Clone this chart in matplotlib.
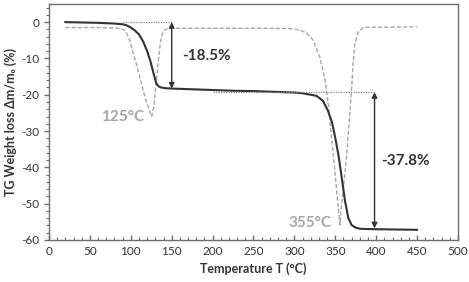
import matplotlib.pyplot as plt
from matplotlib.ticker import MultipleLocator

plt.rcParams['font.family'] = ['Lato', 'DejaVu Sans']
plt.rcParams['axes.unicode_minus'] = False

# TG curve (solid)
temp_tg = [20, 40, 60, 80, 90, 95, 100, 105, 110, 115, 120, 124, 128, 131, 134, 137,
           142, 150, 175, 200, 225, 250, 275, 300, 310, 320, 327, 335, 341, 346, 350,
           354, 358, 362, 366, 370, 375, 380, 390, 420, 450]
mass_tg = [0, -0.1, -0.2, -0.4, -0.6, -0.9, -1.5, -2.3, -3.4, -5.3, -8.0, -10.8, -14.3,
           -16.8, -17.7, -18.0, -18.2, -18.3, -18.5, -18.7, -18.9, -19.0, -19.2, -19.4,
           -19.6, -20.0, -20.3, -21.7, -24.4, -27.6, -31.9, -36.8, -43.0, -49.4, -54.0,
           -55.9, -56.6, -56.9, -57.0, -57.1, -57.2]

# DTG curve (dashed), arbitrary scale
temp_dtg = [20, 50, 80, 88, 93, 98, 103, 108, 112, 116, 120, 123, 125.5, 128, 130, 132,
            134, 136, 138, 141, 145, 150, 200, 250, 290, 300, 307, 315, 323, 331, 337,
            341.5, 345.5, 349.5, 352.5, 355, 355.7, 357.5, 360, 364, 367, 370, 372, 374,
            378, 384, 390, 420, 450]
val_dtg = [-1.5, -1.5, -1.6, -1.8, -2.3, -4.5, -8.7, -12.5, -16.0, -19.5, -22.5, -24.5,
           -26.0, -23.5, -19.0, -14.5, -10.0, -6.0, -3.5, -2.2, -1.8, -1.7, -1.7, -1.7,
           -1.75, -1.9, -2.2, -3.0, -5.0, -9.6, -15.2, -22.6, -31.9, -41.0, -48.5, -54.0,
           -55.8, -51.0, -45.7, -36.5, -27.2, -18.0, -10.6, -5.9, -2.7, -1.5, -1.4, -1.4, -1.3]

# dotted guide lines and step arrows
guide_y = [0, -19.3]
guide_x0 = [90, 200]
guide_x1 = [150, 398]
arrow_x = [150, 398]
arrow_top = [0, -19.3]
arrow_bottom = [-18.3, -56.8]
step_labels = ['-18.5%', '-37.8%']
step_label_x = [192, 436]
step_label_y = [-9.2, -38.2]

peak_labels = ['125°C', '355°C']
peak_label_x = [90, 319]
peak_label_y = [-26.0, -55.3]

dark = '#333333'
grey = '#a6a6a6'

fig = plt.figure(figsize=(4.69, 2.82), dpi=100)
ax = fig.add_axes([0.1045, 0.149, 0.872, 0.837])

ax.plot(temp_dtg, val_dtg, color=grey, lw=1.0, ls=(0, (3, 1.5)))
ax.plot(temp_tg, mass_tg, color=dark, lw=1.5)

for y, x0, x1 in zip(guide_y, guide_x0, guide_x1):
    ax.plot([x0, x1], [y, y], color='#8c8c8c', lw=0.9, ls=(0, (1, 1)))

for x, top, bot in zip(arrow_x, arrow_top, arrow_bottom):
    ax.annotate('', xy=(x, bot), xytext=(x, top),
                arrowprops=dict(arrowstyle='<|-|>', color=dark, lw=1.0,
                                mutation_scale=8, shrinkA=0, shrinkB=0))

for txt, x, y in zip(step_labels, step_label_x, step_label_y):
    ax.text(x, y, txt, ha='center', va='center', fontsize=11, fontweight='bold', color=dark)

for txt, x, y in zip(peak_labels, peak_label_x, peak_label_y):
    ax.text(x, y, txt, ha='center', va='center', fontsize=11, fontweight='bold', color=grey)

ax.set_xlim(0, 500)
ax.set_ylim(-60, 5)
ax.xaxis.set_major_locator(MultipleLocator(50))
ax.xaxis.set_minor_locator(MultipleLocator(10))
ax.yaxis.set_major_locator(MultipleLocator(10))
ax.yaxis.set_minor_locator(MultipleLocator(2))

for s in ax.spines.values():
    s.set_color('#6e6e6e')
    s.set_linewidth(1.0)

ax.tick_params(axis='x', which='both', direction='in', colors='#6e6e6e', labelcolor=dark,
               labelsize=8.5, pad=4)
ax.tick_params(axis='y', which='both', direction='out', colors='#6e6e6e', labelcolor=dark,
               labelsize=8.5)
ax.tick_params(which='major', length=3.5, width=1)
ax.tick_params(which='minor', length=2.5, width=0.8)

ax.set_xlabel('Temperature T (°C)', fontsize=9, fontweight='bold', color=dark, labelpad=4)
ax.set_ylabel('TG Weight loss Δm/m₀ (%)', fontsize=9, fontweight='bold', color=dark, labelpad=3)

fig.savefig('out.png', dpi=100)
